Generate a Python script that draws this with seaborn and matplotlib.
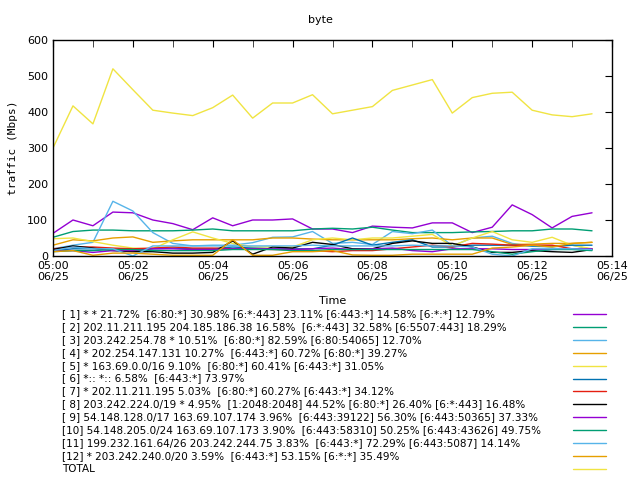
import matplotlib
matplotlib.use("Agg")
import matplotlib.pyplot as plt
import matplotlib.dates as mdates
from matplotlib.lines import Line2D
import seaborn as sns
import pandas as pd

times = pd.date_range("2024-06-25 05:00:00", periods=28, freq="30s")

labels = [
    "[ 1] * * 21.72%  [6:80:*] 30.98% [6:*:443] 23.11% [6:443:*] 14.58% [6:*:*] 12.79%",
    "[ 2] 202.11.211.195 204.185.186.38 16.58%  [6:*:443] 32.58% [6:5507:443] 18.29%",
    "[ 3] 203.242.254.78 * 10.51%  [6:80:*] 82.59% [6:80:54065] 12.70%",
    "[ 4] * 202.254.147.131 10.27%  [6:443:*] 60.72% [6:80:*] 39.27%",
    "[ 5] * 163.69.0.0/16 9.10%  [6:80:*] 60.41% [6:443:*] 31.05%",
    "[ 6] *:: *:: 6.58%  [6:443:*] 73.97%",
    "[ 7] * 202.11.211.195 5.03%  [6:80:*] 60.27% [6:443:*] 34.12%",
    "[ 8] 203.242.224.0/19 * 4.95%  [1:2048:2048] 44.52% [6:80:*] 26.40% [6:*:443] 16.48%",
    "[ 9] 54.148.128.0/17 163.69.107.174 3.96%  [6:443:39122] 56.30% [6:443:50365] 37.33%",
    "[10] 54.148.205.0/24 163.69.107.173 3.90%  [6:443:58310] 50.25% [6:443:43626] 49.75%",
    "[11] 199.232.161.64/26 203.242.244.75 3.83%  [6:443:*] 72.29% [6:443:5087] 14.14%",
    "[12] * 203.242.240.0/20 3.59%  [6:443:*] 53.15% [6:*:*] 35.49%",
    "TOTAL",
]

s1 = [63, 100, 84, 122, 120, 100, 90, 73, 106, 84, 100, 100, 103, 75,
      75, 65, 83, 80, 78, 92, 92, 65, 80, 142, 115, 78, 110, 120]
s2 = [52, 68, 72, 72, 70, 70, 70, 72, 75, 70, 70, 70, 70, 75,
      77, 75, 80, 72, 65, 65, 65, 67, 68, 70, 70, 75, 75, 70]
s3 = [20, 30, 38, 152, 125, 65, 35, 28, 30, 30, 37, 52, 53, 68,
      35, 38, 32, 68, 62, 72, 28, 50, 55, 35, 27, 25, 30, 18]
s4 = [30, 45, 42, 50, 53, 38, 42, 45, 45, 45, 45, 50, 50, 47,
      45, 45, 45, 45, 48, 50, 45, 50, 50, 32, 33, 35, 35, 38]
s5 = [48, 50, 40, 30, 22, 20, 45, 67, 50, 35, 25, 25, 25, 45,
      50, 45, 50, 50, 55, 60, 28, 50, 68, 45, 38, 52, 30, 20]
s6 = [15, 20, 20, 18, 15, 20, 22, 20, 20, 25, 22, 20, 20, 20,
      30, 50, 30, 38, 45, 25, 25, 30, 30, 30, 28, 28, 30, 30]
s7 = [20, 25, 25, 22, 20, 22, 25, 22, 22, 20, 20, 18, 18, 15,
      12, 15, 15, 20, 25, 30, 25, 35, 33, 30, 30, 30, 20, 20]
s8 = [18, 28, 22, 15, 12, 12, 8, 8, 10, 42, 5, 25, 22, 38,
      32, 20, 20, 35, 42, 35, 35, 25, 10, 10, 15, 12, 10, 18]
s9 = [15, 15, 10, 15, 15, 20, 20, 18, 18, 20, 20, 20, 18, 20,
      22, 18, 20, 22, 15, 12, 20, 20, 20, 18, 18, 18, 20, 20]
s10 = [12, 15, 15, 18, 18, 15, 15, 15, 15, 18, 18, 18, 15, 15,
       18, 18, 18, 18, 18, 18, 18, 18, 12, 5, 12, 18, 18, 15]
s11 = [15, 25, 20, 20, 0, 28, 28, 28, 28, 28, 28, 28, 28, 30,
       28, 28, 28, 28, 30, 28, 28, 25, 5, 0, 20, 20, 20, 18]
s12 = [12, 15, 2, 8, 8, 5, 2, 2, 2, 45, 2, 2, 12, 12,
       15, 3, 2, 2, 5, 5, 5, 5, 22, 25, 30, 25, 35, 38]
total = [300, 417, 367, 520, 462, 405, 397, 390, 412, 447, 383, 425, 425, 448,
         395, 405, 415, 460, 475, 490, 397, 440, 452, 455, 405, 392, 387, 395]

series = [s1, s2, s3, s4, s5, s6, s7, s8, s9, s10, s11, s12, total]
colors = ["#9400d3", "#009e73", "#56b4e9", "#e69f00", "#f0e442", "#0072b2",
          "#e51e10", "#000000", "#9400d3", "#009e73", "#56b4e9", "#e69f00",
          "#f0e442"]

frames = []
for lab, vals in zip(labels, series):
    frames.append(pd.DataFrame({"time": times, "traffic": vals, "series": lab}))
df = pd.concat(frames, ignore_index=True)

sns.set_style("white")
plt.rcParams["font.family"] = ["DejaVu Sans"]
plt.rcParams["font.size"] = 8
plt.rcParams["text.color"] = "black"
plt.rcParams["axes.labelcolor"] = "black"

fig = plt.figure(figsize=(6.4, 4.8), dpi=100)
ax = fig.add_axes([53 / 640, 1 - 256 / 480, 559 / 640, 216 / 480])

sns.lineplot(data=df, x="time", y="traffic", hue="series", hue_order=labels,
             palette=colors, linewidth=1.0, ax=ax, legend=False)

ax.set_xlim(pd.Timestamp("2024-06-25 05:00"), pd.Timestamp("2024-06-25 05:14"))
ax.set_ylim(0, 600)
ax.set_yticks(range(0, 601, 100))
ax.xaxis.set_major_locator(mdates.MinuteLocator(byminute=range(0, 60, 2)))
ax.xaxis.set_minor_locator(mdates.MinuteLocator())
ax.xaxis.set_major_formatter(mdates.DateFormatter("%H:%M\n%m/%d"))
ax.tick_params(direction="in", top=True, right=True, length=5, labelsize=8,
               color="black", labelcolor="black")
ax.tick_params(which="minor", direction="in", top=True, length=5)
for sp in ax.spines.values():
    sp.set_color("black")
    sp.set_linewidth(1.0)
ax.set_xlabel("")
ax.set_ylabel("traffic (Mbps)", fontsize=8, family="DejaVu Sans Mono")
ax.yaxis.set_label_coords(-0.062, 0.5)

fig.text(0.5, 1 - 20 / 480, "byte", ha="center", va="center", fontsize=8)
fig.text(333 / 640, 1 - 301 / 480, "Time", ha="center", va="center", fontsize=8)

# key below the plot: text left, sample line right
for i, (lab, col) in enumerate(zip(labels, colors)):
    y = 1 - (314 + i * 12.9) / 480
    fig.text(62 / 640, y, lab, ha="left", va="center", fontsize=7.5)
    fig.add_artist(Line2D([573 / 640, 606 / 640], [y, y], color=col,
                          linewidth=1.0, transform=fig.transFigure))

fig.savefig("out.png", dpi=100)
